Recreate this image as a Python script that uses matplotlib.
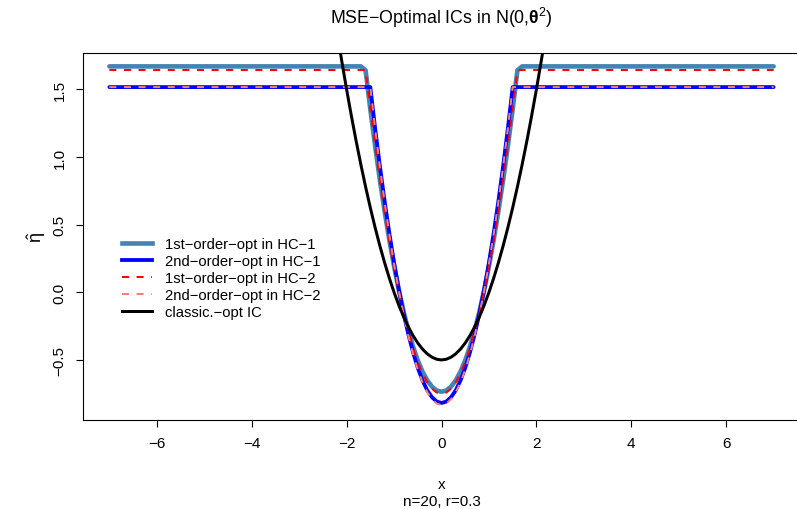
import numpy as np
import matplotlib
matplotlib.use("Agg")
import matplotlib.pyplot as plt
from matplotlib.lines import Line2D

plt.rcParams['font.family'] = ['Liberation Sans', 'DejaVu Sans']
plt.rcParams['mathtext.fontset'] = 'custom'
plt.rcParams['mathtext.rm'] = 'Liberation Sans'
plt.rcParams['mathtext.it'] = 'Liberation Sans:italic'
plt.rcParams['mathtext.bf'] = 'Liberation Sans:bold'

# ---- data (right half, mirrored for symmetric curves) ----
x_half = [0.0, 0.1, 0.2, 0.3, 0.4, 0.5, 0.6, 0.7, 0.8, 0.9, 1.0,
          1.1, 1.2, 1.3, 1.4, 1.5, 1.6, 1.7, 7.0]
first_hc1 = [-0.735, -0.726, -0.698, -0.651, -0.587, -0.503, -0.401, -0.280, -0.141, 0.017, 0.193,
             0.388, 0.601, 0.833, 1.084, 1.353, 1.641, 1.670, 1.670]
second_hc1 = [-0.818, -0.808, -0.776, -0.725, -0.652, -0.559, -0.444, -0.309, -0.154, 0.023, 0.220,
              0.438, 0.677, 0.936, 1.216, 1.517, 1.517, 1.517, 1.517]
first_hc2 = [-0.750, -0.741, -0.713, -0.666, -0.600, -0.516, -0.413, -0.292, -0.152, 0.007, 0.185,
             0.381, 0.596, 0.830, 1.083, 1.354, 1.643, 1.643, 1.643]
second_hc2 = [-0.833, -0.823, -0.791, -0.739, -0.666, -0.572, -0.457, -0.321, -0.165, 0.013, 0.211,
              0.430, 0.670, 0.931, 1.213, 1.517, 1.517, 1.517, 1.517]
x_classic_half = [0.0, 0.1, 0.2, 0.3, 0.4, 0.5, 0.6, 0.7, 0.8, 0.9, 1.0, 1.1,
                  1.2, 1.3, 1.4, 1.5, 1.6, 1.7, 1.8, 1.9, 2.0, 2.1, 2.2, 2.3]
classic = [-0.5, -0.495, -0.48, -0.455, -0.42, -0.375, -0.32, -0.255, -0.18, -0.095, 0.0, 0.105,
           0.22, 0.345, 0.48, 0.625, 0.78, 0.945, 1.12, 1.305, 1.5, 1.705, 1.92, 2.145]

labels = ["1st\u2212order\u2212opt in HC\u22121", "2nd\u2212order\u2212opt in HC\u22121",
          "1st\u2212order\u2212opt in HC\u22122", "2nd\u2212order\u2212opt in HC\u22122",
          "classic.\u2212opt IC"]
xticks = [-6, -4, -2, 0, 2, 4, 6]
yticks = [-0.5, 0.0, 0.5, 1.0, 1.5]


def mirror(xh, yh):
    xh = np.asarray(xh); yh = np.asarray(yh)
    return np.concatenate([-xh[:0:-1], xh]), np.concatenate([yh[:0:-1], yh])


W, H = 797, 510
fig = plt.figure(figsize=(W / 100, H / 100), dpi=100)
L, R, T, B = 82.8, 800.2, 54, 421
ax = fig.add_axes([L / W, 1 - B / H, (R - L) / W, (B - T) / H])

lw_px = lambda p: p * 0.72
common = dict(solid_capstyle='round', solid_joinstyle='round')
ax.plot(*mirror(x_half, first_hc1), color='steelblue', lw=lw_px(4.6), **common)
ax.plot(*mirror(x_half, second_hc1), color='blue', lw=lw_px(3.8), **common)
ax.plot(*mirror(x_half, first_hc2), color='red', lw=lw_px(2), dashes=(3.5, 3.8))
ax.plot(*mirror(x_half, second_hc2), color='salmon', lw=lw_px(2), dashes=(3.5, 3.8))
ax.plot(*mirror(x_classic_half, classic), color='black', lw=lw_px(3), **common)

ax.set_xlim(-7.56, 7.56)
ax.set_ylim(-0.944, 1.769)
ax.set_xticks(xticks)
ax.set_xticklabels([f"{t:g}".replace('-', '\u2212') for t in xticks])
ax.set_yticks(yticks)
ax.set_yticklabels([f"{t:.1f}".replace('-', '\u2212') for t in yticks], rotation=90, va='center')
ax.tick_params(direction='out', length=5.2, width=0.8, labelsize=11, pad=6.5, colors='black')
for s in ax.spines.values():
    s.set_linewidth(0.8)

handles = [Line2D([], [], color='steelblue', lw=lw_px(4.6)),
           Line2D([], [], color='blue', lw=lw_px(3.8)),
           Line2D([], [], color='red', lw=lw_px(2), dashes=(3.5, 3.8)),
           Line2D([], [], color='salmon', lw=lw_px(2), dashes=(3.5, 3.8)),
           Line2D([], [], color='black', lw=lw_px(3))]
fig.legend(handles, labels, loc='center left', bbox_to_anchor=(121.7 / W, 1 - 279 / H),
           frameon=False, fontsize=10.6, handlelength=2.05, handletextpad=0.9,
           labelspacing=0.21, borderpad=0, borderaxespad=0)

fig.text(441.5 / W, 1 - 18 / H, "MSE\u2212Optimal ICs in N(0,$\\mathbf{\\theta}^2$)", ha='center', va='center', fontsize=12.8)
fig.text(441.5 / W, 1 - 485 / H, "x", ha='center', va='center', fontsize=11)
fig.text(441.5 / W, 1 - 502 / H, "n=20, r=0.3", ha='center', va='center', fontsize=11)
fig.text(37 / W, 1 - 237.5 / H, r"$\hat{\mathrm{\eta}}$", ha='center', va='center', rotation=90, fontsize=13)

fig.savefig("out.png", dpi=100)
